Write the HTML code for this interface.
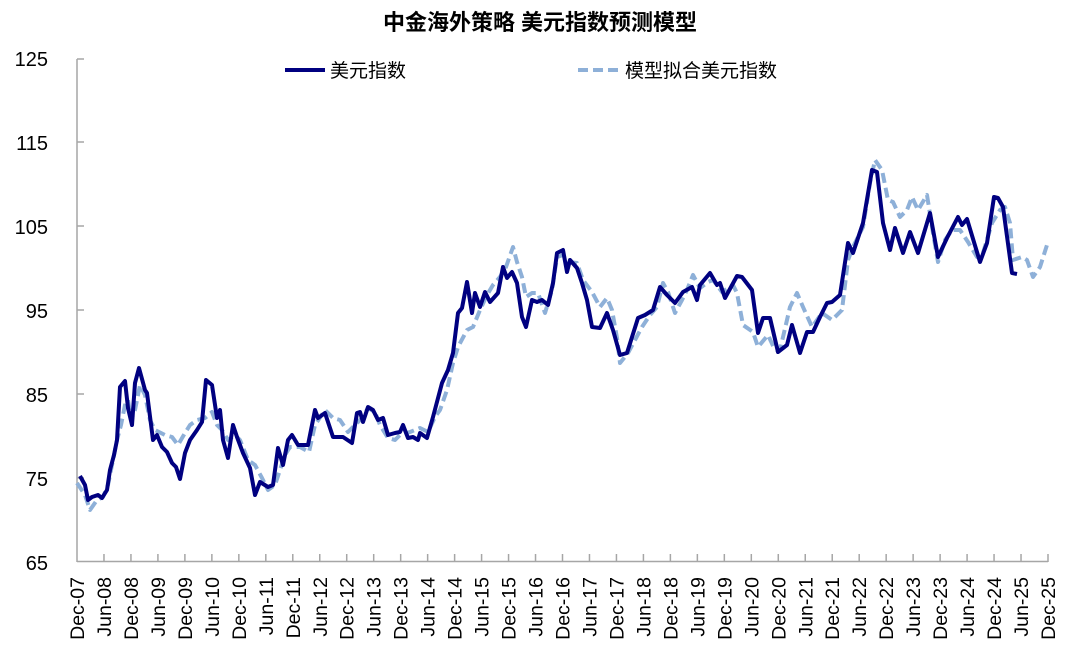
<!DOCTYPE html>
<html><head><meta charset="utf-8"><style>
body{margin:0;background:#fff;}
svg{display:block;font-family:"Liberation Sans","Noto Sans CJK SC",sans-serif;}
</style></head><body>
<svg width="1080" height="664" viewBox="0 0 1080 664">
<text x="540" y="30" text-anchor="middle" font-size="22" font-weight="bold" fill="#000">中金海外策略 美元指数预测模型</text>
<line x1="285" y1="70" x2="325" y2="70" stroke="#000080" stroke-width="4"/>
<text x="330" y="77" font-size="19">美元指数</text>
<line x1="578" y1="70" x2="620" y2="70" stroke="#8eb0d8" stroke-width="4" stroke-dasharray="10,5"/>
<text x="625" y="77" font-size="19">模型拟合美元指数</text>
<g font-size="20" text-anchor="end">
<text x="48" y="66">125</text><text x="48" y="150">115</text><text x="48" y="234">105</text>
<text x="48" y="318">95</text><text x="48" y="402">85</text><text x="48" y="486">75</text><text x="48" y="570">65</text>
</g>
<g stroke="#a6a6a6" stroke-width="1.5" fill="none">
<line x1="77" y1="59" x2="77" y2="562"/>
<line x1="77" y1="561.5" x2="1048" y2="561.5"/>
<line x1="77" y1="142" x2="84" y2="142"/><line x1="77" y1="226" x2="84" y2="226"/>
<line x1="77" y1="310" x2="84" y2="310"/><line x1="77" y1="394" x2="84" y2="394"/>
<line x1="77" y1="478" x2="84" y2="478"/><line x1="77" y1="59" x2="84" y2="59"/>
</g>
<g id="ticks" stroke="#a6a6a6" stroke-width="1.5"></g>
<g id="xl" font-size="19.5"></g>
<polyline fill="none" stroke="#8eb0d8" stroke-width="4" stroke-dasharray="10,5" stroke-linejoin="round" points="77,483 85,495 90,510 97,500 103,497 108,485 113,460 117,440 121,425 125,405 128,400 131,420 135,410 140,385 145,395 150,420 155,430 165,435 172,437 178,445 185,433 190,425 197,420 205,418 212,412 217,425 222,430 228,440 235,435 240,440 248,460 255,465 262,478 268,490 275,485 280,470 285,455 290,447 300,447 309,452 315,425 325,410 333,418 340,420 348,432 355,425 362,418 368,408 375,412 380,425 388,438 395,440 400,435 410,432 420,428 428,432 435,417 440,410 447,390 453,363 458,347 467,330 473,327 480,310 487,295 493,285 500,277 506,267 513,247 517,262 522,277 526,297 532,293 538,293 545,313 552,290 557,257 563,255 568,262 577,263 583,280 592,292 600,307 607,298 612,310 617,338 620,363 628,353 635,340 642,327 650,315 657,307 663,283 668,292 675,313 682,300 687,290 693,275 700,288 708,282 713,280 722,292 733,285 737,293 743,325 753,332 758,347 768,335 775,350 780,350 790,307 797,293 803,307 812,327 822,313 832,320 842,310 848,260 853,247 863,227 870,183 875,160 882,170 888,200 893,202 900,217 907,210 912,197 918,210 927,195 933,233 938,262 945,240 952,230 960,230 968,242 977,257 983,253 992,223 1000,210 1005,207 1010,223 1013,260 1022,257 1027,260 1033,277 1040,267 1047,245"/>
<polyline fill="none" stroke="#000080" stroke-width="4" stroke-linejoin="round" points="80,476 85,485 88,500 92,497 98,495 102,498 107,490 110,470 114,455 117,440 120,387 125,381 128,408 132,425 135,383 139,368 145,390 147,393 153,440 157,435 162,447 167,452 172,463 176,467 180,479 185,453 190,440 197,430 202,422 206,380 212,385 217,418 220,410 223,440 228,458 233,425 237,437 243,453 250,468 255,495 260,482 268,487 273,485 278,448 283,465 288,440 292,435 298,445 308,445 315,410 318,418 325,413 333,437 343,437 352,443 357,413 360,412 363,422 368,407 373,410 378,420 383,418 388,435 395,433 400,432 403,425 408,438 413,437 418,440 420,433 427,438 433,417 442,383 448,370 453,353 458,313 462,308 467,282 472,313 475,293 480,307 485,292 490,302 498,293 503,267 507,278 512,272 517,283 522,317 526,327 532,300 537,302 542,300 548,305 553,283 557,253 563,250 567,272 570,260 577,268 582,283 587,300 592,327 600,328 607,313 613,330 620,355 627,353 638,318 645,315 653,310 660,287 667,295 675,303 683,292 692,287 697,300 700,285 710,273 717,285 720,283 725,298 737,276 742,277 752,290 758,333 763,318 770,318 778,352 787,345 792,325 800,353 807,332 813,332 820,317 827,303 832,302 840,295 848,243 853,253 863,223 872,170 877,172 883,223 890,250 895,228 903,253 910,232 918,253 930,213 938,257 947,238 958,217 962,225 967,219 980,262 987,243 994,197 998,198 1003,207 1012,273 1017,274"/>
</svg>
<script>
var t=document.getElementById('ticks'),xl=document.getElementById('xl'),ns='http://www.w3.org/2000/svg';
for(var i=0;i<=36;i++){var x=77+i*(1048-77)/36;
 if(i>0){var l=document.createElementNS(ns,'line');l.setAttribute('x1',x);l.setAttribute('x2',x);l.setAttribute('y1',554);l.setAttribute('y2',562);t.appendChild(l);}
 var yr=7+Math.floor((i+1)/2);var s=(i%2==0?'Dec-':'Jun-')+(yr<10?'0':'')+yr;
 var tx=document.createElementNS(ns,'text');tx.setAttribute('transform','translate('+(x+7)+',577) rotate(-90)');tx.setAttribute('text-anchor','end');tx.textContent=s;xl.appendChild(tx);}
</script>
</body></html>
